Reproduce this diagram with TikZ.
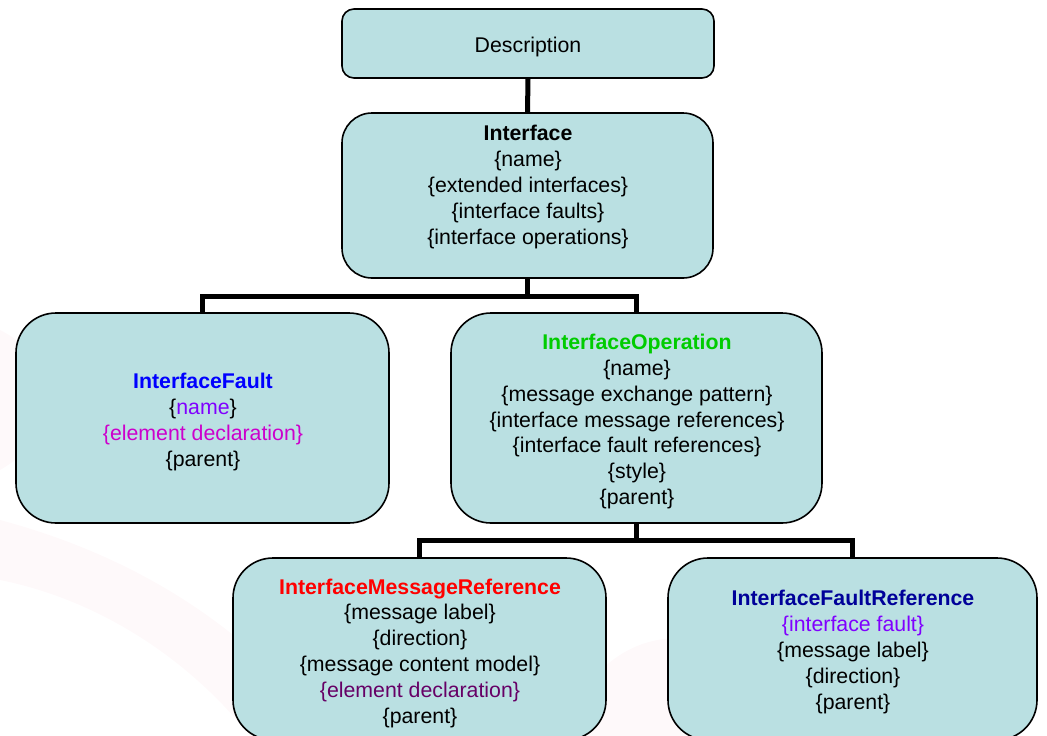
\documentclass[tikz,border=0pt]{standalone}
\usepackage{fontspec}
\setmainfont{Liberation Sans}
\begin{document}
\definecolor{boxfill}{RGB}{186,224,226}
\definecolor{faultblue}{RGB}{0,0,255}
\definecolor{namepurple}{RGB}{128,0,255}
\definecolor{elemmagenta}{RGB}{204,0,204}
\definecolor{opgreen}{RGB}{0,204,0}
\definecolor{msgred}{RGB}{255,0,0}
\definecolor{elemplum}{RGB}{102,0,102}
\definecolor{frefnavy}{RGB}{0,0,153}
\definecolor{wmpink}{RGB}{235,120,130}
\begin{tikzpicture}[x=1pt,y=-1pt,
  box/.style={draw=black,line width=1.6pt,fill=boxfill,inner sep=0pt},
  txt/.style={inner sep=0pt,align=center,font=\fontsize{21.3}{25.8}\selectfont},
  conn/.style={line width=5pt,line join=miter,draw=black}]
\useasboundingbox (0,0) rectangle (1047,736);
% faint watermark behind the tree
\begin{scope}[opacity=0.045]
  \fill[wmpink] (0,330) .. controls (60,360) and (70,430) .. (0,470) -- cycle;
  \fill[wmpink] (0,520) .. controls (150,560) and (260,640) .. (330,736) -- (250,736) .. controls (190,660) and (100,600) .. (0,580) -- cycle;
  \fill[wmpink] (560,736) .. controls (590,660) and (640,630) .. (700,640) -- (700,736) -- cycle;
\end{scope}
% boxes
\node[box,rounded corners=12pt,minimum width=372pt,minimum height=69pt] (desc) at (528,43.5) {};
\node[box,rounded corners=30pt,minimum width=371pt,minimum height=165pt] (iface) at (527.5,195.5) {};
\node[box,rounded corners=40pt,minimum width=373pt,minimum height=210pt] (ifault) at (202.5,418) {};
\node[box,rounded corners=40pt,minimum width=371pt,minimum height=210pt] (iop) at (636.5,418) {};
\node[box,rounded corners=40pt,minimum width=373pt,minimum height=182pt] (imr) at (419.5,649) {};
\node[box,rounded corners=40pt,minimum width=369pt,minimum height=182pt] (ifr) at (852.5,649) {};
% texts
\node[txt] (descT) at (528,47) {Description};
\node[txt] (ifaceT) at (528,187) {\textbf{Interface}\\\{name\}\\\{extended interfaces\}\\\{interface faults\}\\\{interface operations\}};
\node[txt] (ifaultT) at (203,422) {\textcolor{faultblue}{\textbf{InterfaceFault}}\\\{\textcolor{namepurple}{name}\}\\\textcolor{elemmagenta}{\{element declaration\}}\\\{parent\}};
\node[txt] (iopT) at (637,421.5) {\textcolor{opgreen}{\textbf{InterfaceOperation}}\\\{name\}\\\{message exchange pattern\}\\\{interface message references\}\\\{interface fault references\}\\\{style\}\\\{parent\}};
\node[txt] (imrT) at (420,653) {\textcolor{msgred}{\textbf{InterfaceMessageReference}}\\\{message label\}\\\{direction\}\\\{message content model\}\\\textcolor{elemplum}{\{element declaration\}}\\\{parent\}};
\node[txt] (ifrT) at (853,652) {\textcolor{frefnavy}{\textbf{InterfaceFaultReference}}\\\textcolor{namepurple}{\{interface fault\}}\\\{message label\}\\\{direction\}\\\{parent\}};
% connectors
\coordinate (j1) at (iface.south |- 0,296.5);
\coordinate (j2) at (iop.south |- 0,540.5);
\draw[conn] (desc.south) -- (iface.north);
\draw[conn] (iface.south) -- (j1);
\draw[conn] (ifault.north) |- (j1) -| (iop.north);
\draw[conn] (iop.south) -- (j2);
\draw[conn] (imr.north) |- (j2) -| (ifr.north);
\end{tikzpicture}
\end{document}
